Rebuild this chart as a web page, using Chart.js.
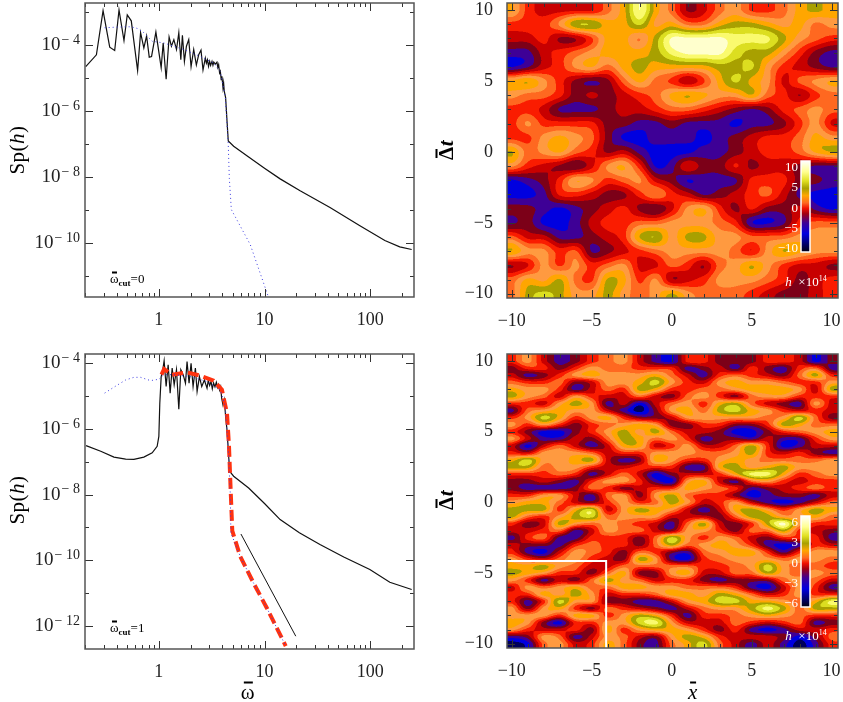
<!DOCTYPE html>
<html>
<head>
<meta charset="utf-8">
<script src="https://cdn.jsdelivr.net/npm/chart.js@4"></script>
<style>
    html, body { margin: 0; padding: 0; background: #fff; }
    body { position: relative; width: 843px; height: 702px; overflow: hidden; }
    canvas { position: absolute; }
    .lbl {
        position: absolute; white-space: nowrap; color: #000;
        font-family: "Liberation Serif", serif; line-height: 1;
        transform: translate(-50%, -50%);
    }
    .rot { transform: translate(-50%, -50%) rotate(-90deg); }
    .axis { font-size: 21px; letter-spacing: 0.5px; }
    .cut { font-size: 13px; transform: translate(0, -50%); }
    .cut sub { font-size: 9px; font-weight: bold; vertical-align: -3px; line-height: 0; }
    .white { color: #fff; font-size: 13px; }
    .white sup { font-size: 8px; vertical-align: 5px; line-height: 0; }
    .cbar { color: #fff; font-size: 13px; transform: translate(-100%, -50%); }
    .bar { position: relative; display: inline-block; }
    .bar::before {
        content: ''; position: absolute; left: 18%; right: 18%; top: 0;
        border-top: 2px solid #000;
    }
</style>
</head>
<body>
<canvas id="spec-top" width="425" height="340" style="left:0;top:0"></canvas>
<canvas id="spec-bottom" width="425" height="352" style="left:0;top:350px"></canvas>
<canvas id="map-top" width="413" height="340" style="left:430px;top:0"></canvas>
<canvas id="map-bottom" width="413" height="352" style="left:430px;top:350px"></canvas>
<script>
'use strict';

// ===== data: spectra (log10 omega, log10 Sp) =====

const TOP_BLACK_LOGW = [
    -0.692, -0.591, -0.528, -0.465, -0.418, -0.377, -0.330, -0.299, -0.261, -0.201,
    -0.173, -0.142, -0.116, -0.091, -0.069, -0.028, 0.022, 0.041, 0.069, 0.097,
    0.119, 0.142, 0.167, 0.189, 0.208, 0.223, 0.242, 0.261, 0.283, 0.305,
    0.330, 0.355, 0.377, 0.399, 0.418, 0.440, 0.450, 0.460, 0.470, 0.481,
    0.490, 0.503, 0.512, 0.520, 0.535, 0.550, 0.558, 0.566, 0.575, 0.582,
    0.590, 0.597, 0.607, 0.613, 0.619, 0.632, 0.645, 0.657,
    0.708, 0.85, 1.0, 1.148, 1.337, 1.620, 1.903, 2.139, 2.280, 2.393,
];
const TOP_BLACK_LOGS = [
    -4.66, -4.30, -2.96, -4.07, -4.17, -2.94, -3.87, -3.09, -3.27, -4.78,
    -3.63, -4.09, -3.73, -4.37, -4.35, -3.61, -4.69, -3.94, -5.04, -3.76,
    -4.04, -3.84, -4.14, -3.63, -4.45, -3.71, -4.50, -4.04, -3.84, -4.66,
    -4.14, -4.61, -4.30, -4.16, -4.76, -4.40, -4.55, -4.45, -4.65, -4.50,
    -4.62, -4.50, -4.62, -4.52, -4.58, -4.52, -4.68, -4.60, -4.85, -4.80,
    -5.05, -4.95, -5.30, -5.15, -5.40, -5.60, -6.30, -6.91,
    -7.07, -7.40, -7.74, -8.06, -8.42, -8.93, -9.48, -9.93, -10.12, -10.20,
];
const TOP_BLUE_LOGW = [
    -0.513, -0.393, -0.267, -0.204, -0.142, -0.063, 0.047, 0.142, 0.236, 0.393,
    0.519, 0.582, 0.629, 0.657, 0.667, 0.686, 0.865, 1.035,
];
const TOP_BLUE_LOGS = [
    -3.48, -3.46, -3.45, -3.50, -3.63, -3.89, -3.94, -4.04, -4.14, -4.35,
    -4.55, -4.81, -5.58, -7.02, -8.04, -8.99, -10.05, -11.62,
];

const BOT_BLACK_LOGW = [
    -0.689, -0.55, -0.425, -0.314, -0.236, -0.142, -0.063, -0.016, 0, 0.009,
    0.022, 0.035, 0.05, 0.069, 0.088, 0.107, 0.126, 0.145, 0.167, 0.189,
    0.208, 0.23, 0.252, 0.267, 0.286, 0.305, 0.324, 0.346, 0.362, 0.384,
    0.406, 0.431, 0.456, 0.468, 0.481, 0.494, 0.506, 0.518, 0.531, 0.544, 0.557, 0.566, 0.575, 0.585, 0.594, 0.607,
    0.619, 0.632, 0.645, 0.657, 0.67, 0.708, 0.85, 1.0, 1.148, 1.33, 1.525, 1.75, 1.997, 2.186, 2.393,
];
const BOT_BLACK_LOGS = [
    -6.51, -6.68, -6.86, -6.92, -6.93, -6.86, -6.73, -6.53, -6.23, -5.22,
    -4.41, -4.25, -3.93, -4.71, -4.05, -4.91, -4.15, -4.66, -4.20, -5.40,
    -4.20, -4.35, -4.61, -3.95, -4.61, -4.00, -4.71, -4.15, -4.86, -4.41,
    -4.71, -4.51, -4.76, -4.52, -4.68, -4.56, -4.78, -4.60, -4.72, -4.58, -4.74, -4.66, -4.82, -4.72, -5.06, -5.27,
    -5.11, -5.62, -6.03, -6.63, -7.29, -7.44, -7.8, -8.27, -8.76, -9.16, -9.52, -9.9, -10.28, -10.67, -10.89,
];
const BOT_BLUE_LOGW = [
    -0.513, -0.425, -0.314, -0.236, -0.173, -0.079, 0, 0.047, 0.142, 0.299,
    0.456, 0.582, 0.629, 0.657, 0.676, 0.682, 0.770, 0.896, 1.022, 1.201,
];
const BOT_BLUE_LOGS = [
    -4.91, -4.73, -4.51, -4.43, -4.43, -4.53, -4.49, -4.35, -4.35, -4.41,
    -4.56, -4.81, -5.32, -6.63, -7.95, -9.17, -9.88, -10.69, -11.45, -12.61,
];
const BOT_RED_LOGW = [
    0.025, 0.05, 0.126, 0.267, 0.393, 0.519, 0.597, 0.645, 0.664, 0.682,
    0.695, 0.770, 0.896, 1.022, 1.201,
];
const BOT_RED_LOGS = [
    -4.35, -4.18, -4.35, -4.28, -4.38, -4.53, -4.81, -5.52, -6.53, -8.05,
    -9.10, -9.88, -10.69, -11.45, -12.61,
];
const BOT_SLOPE_LOGW = [0.777, 1.296];
const BOT_SLOPE_LOGS = [-9.2, -12.31];

// ===== data: ticks =====

const LOG_X_TICKS = [
    0.2, 0.3, 0.4, 0.5, 0.6, 0.7, 0.8, 0.9, 1, 2, 3, 4, 5, 6, 7, 8, 9,
    10, 20, 30, 40, 50, 60, 70, 80, 90, 100, 200,
];
const LOG_X_LABELS = [1, 10, 100];
const TOP_Y_POWERS = [-3, -4, -5, -6, -7, -8, -9, -10, -11];
const BOT_Y_POWERS = [-4, -5, -6, -7, -8, -9, -10, -11, -12];
const MAP_TICKS = [-10, -9, -8, -7, -6, -5, -4, -3, -2, -1, 0, 1, 2, 3, 4, 5, 6, 7, 8, 9, 10];
const MAP_LABELS = [-10, -5, 0, 5, 10];
const CBAR_TOP_TICKS = [10, 5, 0, -5, -10];
const CBAR_BOT_TICKS = [6, 3, 0, -3, -6];

// ===== data: contour levels of the maps (0 lowest .. 12 highest) =====

const MAP_TOP_X = [-10, -9, -8, -7, -6, -5, -4, -3, -2, -1, 0, 1, 2, 3, 4, 5, 6, 7, 8, 9, 10];
const MAP_TOP_Y = [10, 9, 8, 7, 6, 5, 4, 3, 2, 1, 0, -1, -2, -3, -4, -5, -6, -7, -8, -9, -10];
const MAP_TOP_LEVELS = [
    [8,5,4,4,4,4,6,8,12,8,6,3,4,6,7,5,5,6,8,9,8],
    [5,5,5,7,10,10,8,8,10,7,8,6,6,8,9,9,8,7,8,6,7],
    [4,4,5,3,3,5,8,8,6,9,12,12,12,12,11,11,11,9,7,6,5],
    [2,2,4,5,6,7,8,8,8,9,11,12,12,12,10,9,9,7,5,3,2],
    [1,2,4,5,7,8,6,8,9,8,8,8,8,9,9,10,7,5,4,3,2],
    [8,9,7,5,3,2,3,6,8,6,5,3,5,8,10,8,7,4,6,7,8],
    [7,6,6,5,3,4,3,4,5,6,8,9,8,7,7,9,6,5,3,5,6],
    [5,5,4,2,2,2,3,4,4,5,6,6,5,4,3,2,3,5,6,7,6],
    [5,7,5,5,5,5,3,3,2,2,3,2,2,2,1,2,2,3,5,7,4],
    [5,5,7,8,7,6,3,1,1,2,2,2,1,2,3,4,5,5,6,8,7],
    [9,6,7,8,6,5,3,4,2,1,1,1,2,2,3,4,5,5,6,8,9],
    [7,5,4,3,2,4,7,8,5,1,2,5,3,3,5,3,4,4,3,2,2],
    [1,2,3,5,8,7,5,6,7,4,3,1,2,2,2,5,5,5,3,3,2],
    [1,1,2,5,5,4,3,3,5,7,5,4,2,3,4,5,6,4,2,1,1],
    [3,3,2,1,2,3,4,5,3,2,4,7,8,5,3,5,3,3,4,2,1],
    [2,3,1,1,2,4,5,5,6,6,7,7,7,6,5,1,1,2,5,6,6],
    [6,4,4,2,2,3,4,5,9,10,7,9,9,7,7,6,6,6,7,7,7],
    [9,7,7,5,6,2,3,4,5,6,7,7,7,7,6,4,7,9,8,7,7],
    [3,4,7,5,7,5,6,7,4,4,6,5,3,6,7,9,7,5,4,4,3],
    [6,8,7,9,6,5,9,8,5,7,3,4,5,7,7,7,6,5,3,4,5],
    [6,9,10,9,7,7,9,7,6,7,9,7,6,6,6,5,4,3,3,4,5],
];

const MAP_BOT_X = [-10, -9, -8, -7, -6, -5, -4, -3, -2, -1, 0, 1, 2, 3, 4, 5, 6, 7, 8, 9, 10];
const MAP_BOT_Y = [
    10, 9.5, 9, 8.5, 8, 7.5, 7, 6.5, 6, 5.5, 5, 4.5, 4, 3.5, 3, 2.5, 2, 1.5, 1, 0.5, 0,
    -0.5, -1, -1.5, -2, -2.5, -3, -3.5, -4, -4.5, -5, -5.5, -6, -6.5, -7, -7.5, -8, -8.5, -9, -9.5, -10,
];
const MAP_BOT_LEVELS = [
    [5,7,4,2,3,5,6,7,4,2,1,5,5,3,3,3,5,5,4,1,3],
    [3,5,5,3,5,7,6,6,5,5,5,2,3,4,2,5,3,2,5,6,2],
    [4,2,3,5,7,8,7,7,7,8,6,4,2,5,6,5,4,3,6,9,5],
    [6,5,5,6,3,4,7,7,8,10,7,5,4,7,8,7,7,6,5,5,7],
    [8,7,7,5,2,4,6,5,9,8,5,5,6,6,7,8,8,8,7,4,9],
    [9,7,6,4,7,5,4,4,6,4,3,6,7,5,3,6,7,7,5,5,5],
    [5,5,4,7,9,7,2,4,1,4,6,7,5,8,9,6,4,3,2,7,4],
    [2,6,7,8,7,7,4,2,0,3,7,8,6,9,10,8,7,5,4,5,4],
    [5,7,10,8,5,7,8,5,3,3,4,7,7,7,7,7,6,7,10,6,3],
    [7,5,7,5,3,5,6,7,8,7,3,3,5,5,3,3,5,9,8,6,6],
    [5,3,1,1,3,5,7,9,7,9,6,4,4,3,1,1,3,5,6,7,8],
    [7,4,2,2,4,3,6,9,8,6,7,5,2,3,3,2,4,2,2,5,7],
    [4,1,4,6,4,2,4,8,8,4,5,7,4,4,6,9,5,1,2,4,4],
    [5,4,7,7,7,6,4,5,5,7,7,7,6,6,7,9,5,4,5,3,2],
    [8,10,7,7,8,9,4,2,3,8,7,5,5,7,8,7,6,6,6,6,7],
    [9,9,6,7,7,5,4,4,5,5,5,2,2,8,9,7,8,9,7,7,7],
    [5,5,5,6,5,2,4,6,4,1,3,4,4,5,8,11,11,8,5,6,7],
    [3,3,4,3,2,5,7,7,5,2,1,7,8,4,2,6,7,5,4,5,5],
    [3,2,2,2,3,6,5,3,4,5,5,8,7,6,5,2,3,4,5,6,5],
    [5,5,7,7,4,2,6,7,3,7,9,6,5,5,3,1,2,3,3,2,4],
    [7,8,8,6,4,3,5,7,5,6,9,7,4,5,7,4,2,1,2,4,6],
    [9,9,9,5,8,10,4,7,9,8,7,4,2,4,8,9,7,5,7,9,8],
    [9,6,5,7,9,10,6,7,7,7,4,4,4,3,6,9,9,7,7,8,6],
    [5,3,4,9,7,6,7,6,5,4,2,6,9,4,3,5,9,12,7,5,5],
    [4,4,5,6,2,4,7,6,6,4,3,7,7,5,3,6,6,9,5,4,3],
    [2,5,6,2,2,5,5,5,3,6,10,7,5,7,6,4,3,5,5,5,2],
    [4,3,3,2,5,6,5,5,3,6,9,6,7,8,7,5,2,1,2,5,4],
    [5,2,1,4,7,6,5,3,6,5,3,2,6,7,8,8,5,2,5,7,7],
    [7,5,4,6,7,5,4,3,9,7,2,1,5,6,7,7,7,6,7,7,6],
    [8,8,9,7,6,4,4,6,6,6,6,6,5,5,6,7,10,7,6,6,5],
    [9,8,7,5,5,3,6,8,3,3,7,8,4,4,6,6,9,7,6,7,6],
    [7,5,2,4,3,6,9,7,6,4,5,5,3,2,3,3,3,6,7,6,4],
    [4,7,6,7,8,6,6,8,8,7,7,6,6,6,5,2,1,4,7,5,2],
    [5,5,8,7,9,7,4,5,5,6,8,8,7,9,8,6,4,5,7,5,5],
    [5,2,5,10,7,7,3,3,2,2,4,7,8,10,10,8,8,7,6,8,11],
    [7,3,7,8,5,3,6,5,4,3,2,4,6,7,7,9,11,9,6,9,9],
    [7,7,7,5,8,8,5,7,9,8,5,2,5,5,6,7,8,7,6,5,5],
    [8,7,3,1,5,5,7,7,10,11,7,4,4,4,6,5,4,5,6,2,3],
    [7,5,4,4,5,3,8,5,7,8,8,7,5,3,5,2,1,2,4,4,5],
    [2,3,7,6,2,4,7,6,4,3,7,9,8,5,4,4,4,3,1,3,6],
    [0,1,6,7,4,5,8,6,3,2,6,8,10,6,4,2,4,2,0,2,5],
];

const BOX_X = [-11, -4.1, -4.1];
const BOX_Y = [-4.15, -4.15, -11];

const LEVEL_COLORS = [
    [0, 0, 90], [0, 0, 224], [62, 0, 150], [124, 0, 24], [200, 0, 0], [250, 28, 0], [255, 104, 32],
    [255, 154, 64], [255, 166, 0], [168, 160, 0], [220, 222, 32], [250, 250, 110], [255, 255, 205],
];
const CBAR_STOPS = [
    [0, '#ffffff'], [0.12, '#ffff90'], [0.22, '#e0e020'], [0.3, '#a8a000'], [0.38, '#ffa600'],
    [0.46, '#ff6820'], [0.52, '#f01000'], [0.58, '#a00010'], [0.68, '#3e0096'], [0.8, '#0000e0'], [1, '#000010'],
];

// ===== helpers =====

const toPoints = (logW, logS) => logW.map((w, i) => ({ x: 10 ** w, y: 10 ** logS[i] }));
const SERIF = '"Liberation Serif", serif';
const tickFont = { family: SERIF, size: 18 };

function clamp(v, lo, hi) {
    return Math.max(lo, Math.min(hi, v));
}

// smooth step between grid nodes, used only to draw the contours:
// Catmull-Rom eased with a little B-spline so the bands overshoot less
function spline(a, b, c, d, t, sharp) {
    const cr = b + 0.5 * t * (c - a + t * (2 * a - 5 * b + 4 * c - d + t * (3 * (b - c) + d - a)));
    const t2 = t * t;
    const t3 = t2 * t;
    const bs = ((1 - 3 * t + 3 * t2 - t3) * a + (4 - 6 * t2 + 3 * t3) * b
        + (1 + 3 * t + 3 * t2 - 3 * t3) * c + t3 * d) / 6;
    return sharp * cr + (1 - sharp) * bs;
}

function sampleField(rows, col, row, sharp) {
    const r0 = clamp(Math.floor(row), 0, rows.length - 1);
    const c0 = clamp(Math.floor(col), 0, rows[0].length - 1);
    const tr = clamp(row - r0, 0, 1);
    const tc = clamp(col - c0, 0, 1);
    const cols = [-1, 0, 1, 2].map(dr => {
        const line = rows[clamp(r0 + dr, 0, rows.length - 1)];
        const at = i => line[clamp(c0 + i, 0, line.length - 1)];
        return spline(at(-1), at(0), at(1), at(2), tc, sharp);
    });
    return spline(cols[0], cols[1], cols[2], cols[3], tr, sharp);
}

// ===== plugins =====

const framePlugin = {
    id: 'frame',
    afterDatasetsDraw(chart) {
        const { ctx, chartArea: a, scales } = chart;
        const opts = chart.options.plugins.frame;
        ctx.save();
        ctx.strokeStyle = '#333';
        ctx.lineWidth = 1;
        ctx.beginPath();
        scales.x.ticks.forEach(t => {
            const px = Math.round(scales.x.getPixelForValue(t.value)) + 0.5;
            const len = opts.majorX.includes(t.value) ? 8 : 4;
            ctx.moveTo(px, a.bottom); ctx.lineTo(px, a.bottom - len);
            ctx.moveTo(px, a.top); ctx.lineTo(px, a.top + len);
        });
        scales.y.ticks.forEach(t => {
            const py = Math.round(scales.y.getPixelForValue(t.value)) + 0.5;
            const len = opts.majorY.includes(t.value) ? 8 : 4;
            ctx.moveTo(a.left, py); ctx.lineTo(a.left + len, py);
            ctx.moveTo(a.right, py); ctx.lineTo(a.right - len, py);
        });
        ctx.stroke();
        ctx.strokeStyle = '#555';
        ctx.lineWidth = 1.5;
        ctx.strokeRect(a.left, a.top, a.right - a.left, a.bottom - a.top);

        // 10^n labels of the log axes: canvas text has no superscript
        if (opts.powers) {
            ctx.fillStyle = '#222';
            ctx.textBaseline = 'middle';
            opts.powers.forEach(p => {
                const py = scales.y.getPixelForValue(10 ** p);
                const exp = String(p).replace('-', '− ');
                ctx.font = '14px ' + SERIF;
                const expWidth = ctx.measureText(exp).width;
                ctx.textAlign = 'left';
                ctx.fillText(exp, a.left - 5 - expWidth, py - 5);
                ctx.font = '19px ' + SERIF;
                ctx.textAlign = 'right';
                ctx.fillText('10', a.left - 6 - expWidth, py);
            });
        }
        ctx.restore();
    },
};

// filled contour bands of the level grid, placed through the scales
const contourPlugin = {
    id: 'contour',
    beforeDatasetsDraw(chart) {
        const opts = chart.options.plugins.contour;
        if (!opts || !opts.levels) return;
        const { ctx, chartArea: a, scales } = chart;
        const w = Math.round(a.right - a.left);
        const h = Math.round(a.bottom - a.top);
        if (!chart.$contourImage) {
            const ss = 2;
            const off = document.createElement('canvas');
            off.width = w * ss;
            off.height = h * ss;
            const offCtx = off.getContext('2d');
            const img = offCtx.createImageData(off.width, off.height);
            const dx = opts.xs[1] - opts.xs[0];
            const dy = opts.ys[0] - opts.ys[1];
            for (let py = 0; py < off.height; py++) {
                const row = (opts.ys[0] - scales.y.getValueForPixel(a.top + (py + 0.5) / ss)) / dy;
                for (let px = 0; px < off.width; px++) {
                    const col = (scales.x.getValueForPixel(a.left + (px + 0.5) / ss) - opts.xs[0]) / dx;
                    const v = sampleField(opts.levels, col, row, opts.sharp);
                    const c = LEVEL_COLORS[clamp(Math.round(v), 0, LEVEL_COLORS.length - 1)];
                    const i = (py * off.width + px) * 4;
                    img.data[i] = c[0]; img.data[i + 1] = c[1]; img.data[i + 2] = c[2]; img.data[i + 3] = 255;
                }
            }
            offCtx.putImageData(img, 0, 0);
            chart.$contourImage = off;
        }
        ctx.save();
        ctx.imageSmoothingEnabled = true;
        ctx.drawImage(chart.$contourImage, a.left, a.top, w, h);
        ctx.restore();
    },
    afterDatasetsDraw(chart) {
        const opts = chart.options.plugins.contour;
        if (!opts || !opts.levels) return;
        const { ctx } = chart;
        const b = opts.bar;
        const grad = ctx.createLinearGradient(0, b.y, 0, b.y + b.h);
        CBAR_STOPS.forEach(([p, col]) => grad.addColorStop(p, col));
        ctx.save();
        ctx.fillStyle = grad;
        ctx.fillRect(b.x, b.y, b.w, b.h);
        ctx.strokeStyle = '#fff';
        ctx.lineWidth = 1.5;
        ctx.strokeRect(b.x, b.y, b.w, b.h);
        ctx.restore();
    },
};

Chart.register(framePlugin, contourPlugin);

// ===== chart builders =====

// the scales reserve room for edge labels; the panel sizes are fixed here instead
function fixScale(s) {
    s.paddingTop = 0;
    s.paddingBottom = 0;
    s.paddingLeft = 0;
    s.paddingRight = 0;
}

function baseOptions(cfg) {
    return {
        responsive: false,
        animation: false,
        devicePixelRatio: 1,
        layout: { autoPadding: false, padding: { top: cfg.top, right: cfg.right, left: 0, bottom: 0 } },
        plugins: {
            legend: { display: false },
            tooltip: { enabled: false },
            frame: { majorX: cfg.majorX, majorY: cfg.majorY, powers: cfg.powers },
            contour: cfg.contour || {},
        },
        scales: {
            x: {
                type: cfg.xType,
                min: cfg.xMin,
                max: cfg.xMax,
                grid: { display: false },
                border: { display: false },
                afterBuildTicks: s => { s.ticks = cfg.xTicks.map(value => ({ value })); },
                afterFit: s => { s.height = cfg.bottom; fixScale(s); },
                ticks: {
                    autoSkip: false, maxRotation: 0, padding: 4, color: '#222', font: tickFont,
                    callback: cfg.xLabel,
                },
            },
            y: {
                type: cfg.yType,
                min: cfg.yMin,
                max: cfg.yMax,
                grid: { display: false },
                border: { display: false },
                afterBuildTicks: s => { s.ticks = cfg.yTicks.map(value => ({ value })); },
                afterFit: s => { s.width = cfg.left; fixScale(s); },
                ticks: {
                    display: cfg.yLabel !== null,
                    autoSkip: false, padding: 6, color: '#222', font: tickFont,
                    callback: cfg.yLabel || undefined,
                },
            },
        },
    };
}

function curve(points, color, width, dash, order) {
    return {
        data: points, borderColor: color, borderWidth: width, borderDash: dash, order,
        showLine: true, pointRadius: 0, tension: 0, fill: false,
    };
}

function specChart(id, datasets, powers, yMin, yMax, top, bottom) {
    const labelled = powers.filter(p => p % 2 === 0);
    return new Chart(document.getElementById(id), {
        type: 'scatter',
        data: { datasets },
        options: baseOptions({
            top, right: 11, left: 85, bottom,
            xType: 'logarithmic', xMin: 0.2, xMax: 260,
            yType: 'logarithmic', yMin, yMax,
            xTicks: LOG_X_TICKS,
            yTicks: powers.map(p => 10 ** p),
            majorX: LOG_X_LABELS,
            majorY: labelled.map(p => 10 ** p),
            powers: labelled,
            xLabel: v => (LOG_X_LABELS.includes(v) ? String(v) : ''),
            yLabel: null,
        }),
    });
}

function mapChart(id, xs, ys, levels, sharp, barBox, top, bottom, extra) {
    const nodes = ys.flatMap((y, r) => xs.map((x, c) => ({ x, y, level: levels[r][c] })));
    const signed = v => (MAP_LABELS.includes(v) ? String(v).replace('-', '−') : '');
    return new Chart(document.getElementById(id), {
        type: 'scatter',
        data: { datasets: [{ data: nodes, pointRadius: 0 }, ...extra] },
        options: baseOptions({
            top, right: 5, left: 77, bottom,
            xType: 'linear', xMin: -10.3, xMax: 10.4,
            yType: 'linear', yMin: -10.3, yMax: 10.5,
            xTicks: MAP_TICKS, yTicks: MAP_TICKS,
            majorX: MAP_LABELS, majorY: MAP_LABELS,
            xLabel: signed, yLabel: signed,
            contour: { levels, xs, ys, sharp, bar: barBox },
        }),
    });
}

// ===== page labels =====

function addLabel(html, x, y, cls) {
    const el = document.createElement('div');
    el.className = 'lbl ' + cls;
    el.style.left = x + 'px';
    el.style.top = y + 'px';
    el.innerHTML = html;
    document.body.appendChild(el);
}

function addCbarLabels(ticks, barTop, barHeight) {
    const max = ticks[0];
    ticks.forEach(v => {
        const y = barTop + 5 + ((max - v) / (2 * max)) * (barHeight - 10);
        addLabel(String(v).replace('-', '−'), 798, y, 'cbar');
    });
}

// ===== build =====

specChart('spec-top', [
    curve(toPoints(TOP_BLUE_LOGW, TOP_BLUE_LOGS), '#3a3ae0', 1, [1, 3], 1),
    curve(toPoints(TOP_BLACK_LOGW, TOP_BLACK_LOGS), '#111', 1.2, [], 2),
], TOP_Y_POWERS, 10 ** -11.64, 10 ** -2.73, 3, 43);

specChart('spec-bottom', [
    curve(toPoints(BOT_BLUE_LOGW, BOT_BLUE_LOGS), '#3a3ae0', 1, [1, 3], 1),
    curve(toPoints(BOT_RED_LOGW, BOT_RED_LOGS), '#ff3210', 4, [11, 5], 2),
    curve(toPoints(BOT_BLACK_LOGW, BOT_BLACK_LOGS), '#111', 1.2, [], 3),
    curve(toPoints(BOT_SLOPE_LOGW, BOT_SLOPE_LOGS), '#111', 1, [], 4),
], BOT_Y_POWERS, 10 ** -12.7, 10 ** -3.72, 4, 53);

mapChart('map-top', MAP_TOP_X, MAP_TOP_Y, MAP_TOP_LEVELS, 0.7,
    { x: 371, y: 161, w: 9, h: 91 }, 3, 42, []);

mapChart('map-bottom', MAP_BOT_X, MAP_BOT_Y, MAP_BOT_LEVELS, 0.9,
    { x: 371, y: 166, w: 9, h: 91 }, 4, 54, [
        curve(BOX_X.map((x, i) => ({ x, y: BOX_Y[i] })), '#fff', 2, [], 0),
    ]);

addLabel('Sp(<i>h</i>)', 17, 150, 'axis rot');
addLabel('Sp(<i>h</i>)', 17, 500, 'axis rot');
addLabel('<b><span class="bar">Δ</span><i>t</i></b>', 446, 150, 'axis rot');
addLabel('<b><span class="bar">Δ</span><i>t</i></b>', 446, 500, 'axis rot');
addLabel('<span class="bar">ω</span>', 248, 692, 'axis');
addLabel('<span class="bar"><i>x</i></span>', 693, 692, 'axis');
addLabel('<span class="bar">ω</span><sub>cut</sub>=0', 110, 278, 'cut');
addLabel('<span class="bar">ω</span><sub>cut</sub>=1', 110, 627, 'cut');
addLabel('<i>h</i>&nbsp;&nbsp;×10<sup>14</sup>', 806, 281, 'white');
addLabel('<i>h</i>&nbsp;&nbsp;×10<sup>14</sup>', 806, 635, 'white');
addCbarLabels(CBAR_TOP_TICKS, 161, 91);
addCbarLabels(CBAR_BOT_TICKS, 516, 91);
</script>
</body>
</html>
